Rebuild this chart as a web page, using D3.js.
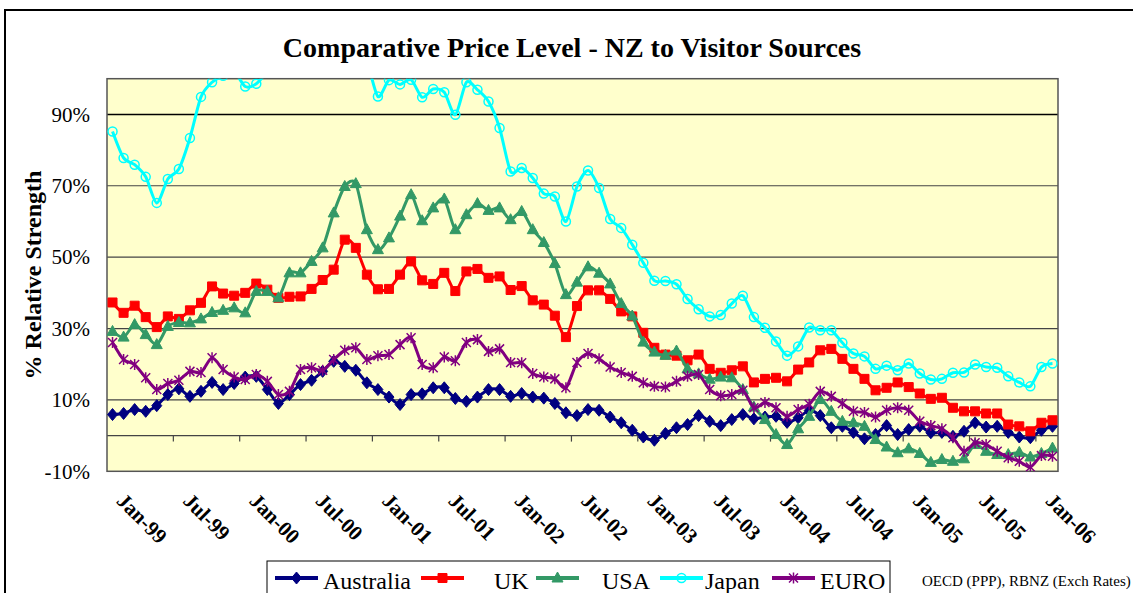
<!DOCTYPE html>
<html>
<head>
<meta charset="utf-8">
<script src="https://cdn.jsdelivr.net/npm/d3@7"></script>
<style>
  body { margin: 0; background: #fff; }
  svg { display: block; font-family: "Liberation Serif", "Times New Roman", serif; }
</style>
</head>
<body>
<svg id="chart" width="1133" height="593"></svg>
<script>
'use strict';

// monthly, Jan-99 .. Feb-06
var months = d3.timeMonth.range(new Date(1999, 0, 1), new Date(2006, 2, 1));
var tickLabels = ['Jan-99', 'Jul-99', 'Jan-00', 'Jul-00', 'Jan-01', 'Jul-01', 'Jan-02', 'Jul-02',
  'Jan-03', 'Jul-03', 'Jan-04', 'Jul-04', 'Jan-05', 'Jul-05', 'Jan-06'];
var yTicks = [-10, 10, 30, 50, 70, 90];

var australia = [5.9, 6.2, 7.3, 6.8, 8.4, 11.5, 13.1, 11.0, 12.4, 14.9, 12.9, 14.6, 16.4, 16.6, 12.9, 9.0,
  11.5, 14.3, 15.5, 18.0, 20.8, 19.4, 18.3, 14.8, 12.9, 10.8, 8.7, 11.5, 11.7, 13.4, 13.4, 10.4,
  9.6, 10.8, 12.9, 12.9, 11.0, 11.8, 10.8, 10.5, 9.0, 6.4, 5.6, 7.3, 7.1, 5.2, 3.6, 1.5,
  -0.4, -1.3, 0.6, 2.2, 3.1, 5.6, 4.0, 2.8, 4.5, 5.9, 4.7, 5.2, 5.4, 3.7, 5.0, 7.0,
  5.6, 2.2, 2.6, 0.9, -0.9, 0.3, 2.8, 0.3, 1.7, 2.6, 0.8, 0.9, -0.2, 1.2, 3.6, 2.4,
  2.6, 0.9, -0.4, -0.6, 1.5, 2.6];
var uk = [37.3, 34.4, 36.4, 33.2, 30.4, 33.4, 32.7, 35.1, 37.2, 41.8, 39.8, 39.2, 40.0, 42.6, 40.9, 38.6,
  38.9, 39.0, 41.1, 43.6, 46.5, 54.9, 52.6, 45.1, 41.0, 41.1, 45.1, 48.8, 43.5, 42.5, 45.6, 40.5,
  46.0, 46.7, 44.2, 44.6, 40.8, 41.9, 37.9, 36.7, 33.6, 27.6, 36.3, 40.7, 40.7, 38.3, 34.8, 33.4,
  28.8, 24.6, 22.7, 22.4, 21.1, 22.7, 18.7, 17.6, 18.3, 19.4, 14.9, 15.9, 16.2, 15.2, 18.5, 20.5,
  23.9, 24.3, 21.5, 18.7, 15.9, 12.7, 13.4, 14.9, 13.6, 11.8, 10.3, 10.6, 7.8, 6.8, 6.8, 6.2,
  6.2, 3.1, 2.6, 1.2, 3.6, 4.3];
var usa = [29.2, 27.6, 31.1, 28.3, 25.5, 30.6, 31.7, 31.6, 32.7, 34.5, 35.1, 35.8, 34.4, 40.4, 40.4, 38.6,
  45.6, 45.6, 48.8, 52.6, 62.4, 69.8, 70.6, 57.7, 52.1, 55.4, 61.5, 67.5, 60.2, 63.8, 66.3, 57.7,
  61.9, 65.0, 63.1, 63.8, 60.5, 62.8, 57.7, 54.1, 48.2, 39.5, 43.0, 47.3, 45.5, 42.5, 37.0, 33.5,
  26.2, 23.4, 22.5, 23.7, 18.7, 17.3, 15.8, 16.4, 16.2, 12.9, 8.0, 4.5, 0.3, -2.5, 1.9, 5.4,
  10.1, 6.8, 4.0, 3.6, 2.6, -1.1, -3.2, -4.8, -3.7, -5.0, -7.5, -6.7, -7.2, -6.5, -2.5, -4.4,
  -5.3, -5.3, -4.7, -6.0, -5.0, -3.5];
// values above 100% are off the top of the chart
var japan = [85.2, 77.8, 75.9, 72.5, 65.2, 71.9, 74.7, 83.4, 94.9, 99.0, 100.8, 102, 97.8, 98.6, 102, 106,
  110, 113, 116, 118, 120, 115, 110, 105, 95.0, 99.6, 98.4, 99.7, 94.8, 97.1, 96.2, 89.9,
  99.0, 96.9, 93.6, 86.2, 74.0, 75.0, 72.2, 67.8, 67.0, 60.0, 69.8, 74.3, 69.4, 60.7, 58.2, 53.5,
  48.4, 43.4, 43.3, 42.4, 38.3, 35.4, 33.4, 33.8, 37.0, 39.2, 33.2, 30.2, 26.4, 22.4, 25.0, 30.3,
  29.5, 29.5, 26.0, 23.0, 22.2, 18.7, 19.6, 18.3, 20.2, 17.4, 15.7, 15.9, 17.6, 17.7, 19.9, 19.2,
  19.0, 16.6, 14.9, 13.8, 19.2, 20.2];
var euro = [26.1, 21.3, 19.9, 16.2, 12.9, 14.6, 15.5, 18.0, 17.7, 21.8, 18.5, 16.4, 15.7, 17.1, 15.2, 11.5,
  12.4, 18.5, 19.0, 18.3, 21.3, 23.9, 24.6, 21.3, 22.4, 22.7, 25.5, 27.4, 19.9, 19.0, 22.0, 21.0,
  26.1, 26.9, 23.6, 24.3, 20.5, 20.4, 17.4, 16.4, 15.9, 13.4, 20.5, 23.0, 21.5, 19.2, 17.7, 16.6,
  14.8, 13.8, 13.6, 15.2, 16.6, 17.1, 12.9, 11.2, 11.5, 12.7, 7.8, 9.3, 7.8, 5.4, 7.3, 8.8,
  12.4, 11.0, 9.0, 6.8, 6.5, 5.2, 7.1, 7.8, 7.1, 4.0, 2.8, 1.9, -0.6, -4.4, -2.0, -2.5,
  -4.4, -6.2, -7.2, -8.8, -5.6, -5.8];

var series = [
  { name: 'Australia', values: australia, color: '#000080', marker: 'diamond', lx: 275, tx: 323 },
  { name: 'UK', values: uk, color: '#FF0000', marker: 'square', lx: 421, tx: 494 },
  { name: 'USA', values: usa, color: '#339966', marker: 'triangle', lx: 536, tx: 602 },
  { name: 'Japan', values: japan, color: '#00FFFF', marker: 'circle', lx: 660, tx: 705 },
  { name: 'EURO', values: euro, color: '#800080', marker: 'star', lx: 772, tx: 820 }
];

var svg = d3.select('#chart');
var plot = { left: 107, right: 1058, top: 78.7, bottom: 471.3 };

var x = d3.scalePoint().domain(d3.range(months.length)).range([plot.left, plot.right]).padding(0.5);
var step = x.step();
var y = d3.scaleLinear().domain([-10, 100]).range([plot.bottom, plot.top]);

// chart area frame
svg.append('path')
  .attr('d', 'M5,593V10H1133')
  .attr('fill', 'none').attr('stroke', '#000').attr('stroke-width', 2);

svg.append('text')
  .attr('x', 572).attr('y', 57)
  .attr('text-anchor', 'middle')
  .style('font-size', '28px').style('font-weight', 'bold')
  .text('Comparative Price Level - NZ to Visitor Sources');

svg.append('rect')
  .attr('x', plot.left).attr('y', plot.top)
  .attr('width', plot.right - plot.left).attr('height', plot.bottom - plot.top)
  .attr('fill', '#FFFFCC');

svg.append('clipPath').attr('id', 'clip')
  .append('rect')
  .attr('x', plot.left).attr('y', plot.top)
  .attr('width', plot.right - plot.left).attr('height', plot.bottom - plot.top);

// gridlines
svg.append('g').selectAll('line')
  .data(yTicks.filter(function (d) { return d > -10; }))
  .join('line')
  .attr('x1', plot.left).attr('x2', plot.right)
  .attr('y1', function (d) { return y(d); }).attr('y2', function (d) { return y(d); })
  .attr('stroke', function (d) { return d === 90 ? '#000' : '#444'; })
  .attr('stroke-width', function (d) { return d === 90 ? 1.5 : 1.2; });

// y axis
var yAxis = svg.append('g')
  .attr('transform', 'translate(' + plot.left + ',0)')
  .call(d3.axisLeft(y).tickValues(yTicks).tickSize(0).tickPadding(17)
    .tickFormat(function (d) { return d + '%'; }));
yAxis.select('.domain').remove();
yAxis.selectAll('text')
  .style('font-family', '"Liberation Serif", serif').style('font-size', '21px').attr('fill', '#000');

svg.append('text')
  .attr('transform', 'translate(41,' + ((plot.top + plot.bottom) / 2) + ') rotate(-90)')
  .attr('text-anchor', 'middle')
  .style('font-size', '24px').style('font-weight', 'bold')
  .text('% Relative Strength');

// category axis crossing at 0%
var xAxis = svg.append('g')
  .attr('transform', 'translate(0,' + y(0) + ')');
xAxis.append('line')
  .attr('x1', plot.left).attr('x2', plot.right)
  .attr('stroke', '#444').attr('stroke-width', 1.2);
xAxis.selectAll('.tick')
  .data(d3.range(6, months.length, 6))
  .join('line')
  .attr('class', 'tick')
  .attr('x1', function (d) { return x(d) - step / 2; })
  .attr('x2', function (d) { return x(d) - step / 2; })
  .attr('y1', 0).attr('y2', 6)
  .attr('stroke', '#444').attr('stroke-width', 1.2);

svg.append('g').selectAll('text')
  .data(tickLabels)
  .join('text')
  .attr('transform', function (d, i) { return 'translate(' + (x(i * 6) + 3) + ',502) rotate(45)'; })
  .style('font-size', '21px').style('font-weight', 'bold')
  .text(function (d) { return d; });

svg.append('rect')
  .attr('x', plot.left).attr('y', plot.top)
  .attr('width', plot.right - plot.left).attr('height', plot.bottom - plot.top)
  .attr('fill', 'none').attr('stroke', '#555').attr('stroke-width', 1.5);

function markerPath(type) {
  switch (type) {
    case 'diamond': return 'M0,-6L5,0L0,6L-5,0Z';
    case 'square': return 'M-4.5,-4.5H4.5V4.5H-4.5Z';
    case 'triangle': return 'M0,-6L5.5,4L-5.5,4Z';
    case 'circle': return 'M4.5,0A4.5,4.5 0 1,1 -4.5,0A4.5,4.5 0 1,1 4.5,0Z';
    default: return 'M-4.5,-4.5L4.5,4.5M-4.5,4.5L4.5,-4.5M0,-5.5V5.5';
  }
}

function drawMarker(sel, s) {
  sel.attr('d', markerPath(s.marker))
    .attr('fill', s.marker === 'circle' || s.marker === 'star' ? 'none' : s.color)
    .attr('stroke', s.color)
    .attr('stroke-width', s.marker === 'circle' || s.marker === 'star' ? 1.5 : 1);
}

var line = d3.line()
  .x(function (d, i) { return x(i); })
  .y(function (d) { return y(d); })
  .curve(d3.curveCardinal.tension(0.2));

var lines = svg.append('g').attr('clip-path', 'url(#clip)');
series.forEach(function (s) {
  var g = lines.append('g');
  g.append('path')
    .attr('d', line(s.values))
    .attr('fill', 'none')
    .attr('stroke', s.color)
    .attr('stroke-width', 3)
    .attr('stroke-linejoin', 'round');
  g.selectAll('path.mk')
    .data(s.values)
    .join('path')
    .attr('class', 'mk')
    .attr('transform', function (d, i) { return 'translate(' + x(i) + ',' + y(d) + ')'; })
    .call(drawMarker, s);
});

// legend
var legend = svg.append('g');
legend.append('rect')
  .attr('x', 267).attr('y', 561).attr('width', 623).attr('height', 40)
  .attr('fill', '#fff').attr('stroke', '#000').attr('stroke-width', 1);
series.forEach(function (s) {
  legend.append('line')
    .attr('x1', s.lx).attr('x2', s.lx + 43)
    .attr('y1', 578).attr('y2', 578)
    .attr('stroke', s.color).attr('stroke-width', 4);
  legend.append('path')
    .attr('transform', 'translate(' + (s.lx + 21.5) + ',578)')
    .call(drawMarker, s);
  legend.append('text')
    .attr('x', s.tx).attr('y', 589)
    .style('font-size', '24px')
    .text(s.name);
});

svg.append('text')
  .attr('x', 922).attr('y', 586)
  .style('font-size', '15px')
  .text('OECD (PPP), RBNZ (Exch Rates)');
</script>
</body>
</html>
